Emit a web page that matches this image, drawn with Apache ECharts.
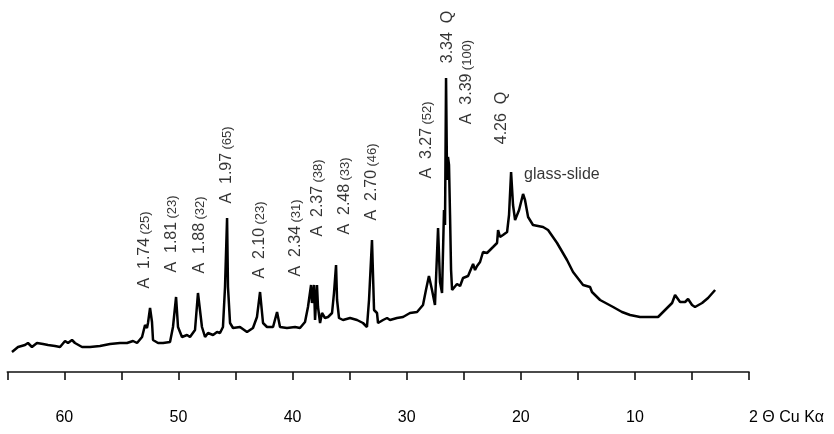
<!DOCTYPE html>
<html>
<head>
<meta charset="utf-8">
<script src="https://cdn.jsdelivr.net/npm/echarts@6/dist/echarts.min.js"></script>
<style>
  html, body { margin: 0; padding: 0; background: #fff; }
  #chart { width: 834px; height: 434px; }
</style>
</head>
<body>
<div id="chart"></div>
<script>
// diffractogram trace (2θ in degrees, height in arbitrary units)
const twoTheta = [
  64.59, 64.06, 63.45, 63.19, 62.84, 62.40, 61.87, 61.43, 60.82, 60.38,
  59.94, 59.68, 59.33, 59.07, 58.45, 57.75, 56.88, 56.00, 55.12, 54.51,
  53.98, 53.63, 53.19, 52.93, 52.76, 52.67, 52.49, 52.32, 52.23, 51.79,
  51.35, 50.74, 50.48, 50.21, 50.04, 49.69, 49.25, 48.99, 48.55, 48.29,
  47.94, 47.67, 47.41, 46.97, 46.62, 46.36, 46.10, 45.92, 45.74, 45.66,
  45.48, 45.22, 44.61, 43.99, 43.47, 43.12, 42.85, 42.59, 42.24, 41.71,
  41.36, 41.10, 40.49, 39.78, 39.35, 38.91, 38.65, 38.38, 38.30, 38.12,
  38.03, 37.86, 37.77, 37.59, 37.42, 37.16, 36.89, 36.54, 36.37, 36.19,
  36.10, 35.93, 35.58, 34.96, 34.35, 33.83, 33.48, 33.30, 33.04, 32.86,
  32.60, 32.51, 32.07, 31.72, 31.46, 30.85, 30.32, 29.71, 29.09, 28.57,
  28.31, 28.05, 27.78, 27.52, 27.25, 27.08, 26.90, 26.73, 26.64, 26.55,
  26.46, 26.38, 26.29, 26.20, 26.11, 26.02, 25.85, 25.59, 25.32, 25.06,
  24.62, 24.18, 24.01, 23.83, 23.57, 23.31, 22.96, 22.43, 22.08, 21.99,
  21.82, 21.56, 21.20, 21.03, 20.85, 20.68, 20.50, 20.15, 19.80, 19.63,
  19.36, 18.93, 18.05, 17.61, 16.82, 15.95, 15.42, 14.54, 13.93, 13.76,
  13.05, 11.91, 11.13, 10.42, 9.55, 7.97, 7.18, 6.74, 6.48, 6.04,
  5.60, 5.34, 4.99, 4.73, 4.11, 3.59, 2.97
];
const counts = [
  20, 25, 27, 29, 25, 29, 28, 27, 26, 25,
  31, 29, 32, 29, 25, 25, 26, 28, 29, 29,
  31, 29, 35, 47, 44, 49, 64, 50, 32, 29,
  29, 30, 45, 75, 45, 35, 37, 35, 42, 79,
  45, 35, 39, 37, 40, 39, 45, 85, 154, 85,
  49, 44, 45, 40, 44, 55, 80, 49, 45, 45,
  60, 45, 44, 45, 44, 50, 65, 87, 69, 87,
  52, 87, 65, 49, 59, 54, 55, 59, 79, 107,
  72, 54, 52, 54, 52, 49, 45, 72, 132, 62,
  59, 49, 52, 54, 52, 54, 55, 59, 60, 67,
  82, 96, 82, 67, 144, 90, 79, 162, 147, 294,
  192, 215, 207, 157, 102, 82, 84, 88, 86, 94,
  96, 108, 102, 106, 110, 120, 119, 125, 129, 142,
  135, 137, 140, 157, 200, 167, 152, 162, 178, 172,
  155, 147, 145, 142, 129, 112, 100, 87, 85, 80,
  72, 65, 60, 57, 55, 55, 64, 69, 77, 70,
  70, 73, 67, 65, 69, 74, 82
];

const tickLabels = [60, 50, 40, 30, 20, 10];

// peak annotations: d-spacing text, relative intensity, anchor (2θ, height)
const peakText = ['A  1.74', 'A  1.81', 'A  1.88', 'A  1.97', 'A  2.10', 'A  2.34', 'A  2.37',
                  'A  2.48', 'A  2.70', 'A  3.27', '3.34  Q', 'A  3.39', '4.26  Q'];
const peakRel = ['25', '23', '32', '65', '23', '31', '38', '33', '46', '52', '', '100', ''];
const peakTheta = [52.93, 50.57, 48.11, 45.74, 42.85, 39.70, 37.77, 35.40, 33.04, 28.22, 26.38, 24.71, 21.64];
const peakLevel = [122, 138, 137, 207, 132, 134, 174, 176, 190, 232, 335, 290, 254];

const slideText = 'glass-slide';
const slideTheta = 19.71;
const slideLevel = 197;

const FONT = '"Liberation Sans", Arial, Helvetica, sans-serif';

const trace = twoTheta.map((t, i) => [t, counts[i]]);
const peakPoints = peakTheta.map((t, i) => ({
  value: [t, peakLevel[i]],
  name: peakText[i],
  rel: peakRel[i]
}));

const chart = echarts.init(document.getElementById('chart'));
chart.setOption({
  animation: false,
  backgroundColor: '#fff',
  grid: { left: 7.3, right: 85, top: 0, bottom: 62 },
  xAxis: {
    type: 'value',
    min: 0,
    max: 65,
    interval: 5,
    inverse: true,
    splitLine: { show: false },
    axisLine: { lineStyle: { color: '#111', width: 1.6 } },
    axisTick: { length: 8, lineStyle: { color: '#111', width: 1.6 } },
    axisLabel: {
      margin: 38,
      fontSize: 16,
      color: '#000',
      fontFamily: FONT,
      formatter: v => tickLabels.includes(v) ? String(v) : ''
    },
    name: '2 Θ Cu Kα',
    nameLocation: 'start',
    nameGap: 0,
    nameTextStyle: {
      fontSize: 16,
      color: '#000',
      fontFamily: FONT,
      align: 'left',
      verticalAlign: 'top',
      padding: [38, 0, 0, 0]
    }
  },
  yAxis: {
    type: 'value',
    min: 0,
    max: 372,
    show: false
  },
  series: [
    {
      type: 'line',
      data: trace,
      showSymbol: false,
      lineStyle: { color: '#000', width: 2.5 },
      z: 3
    },
    {
      type: 'scatter',
      data: peakPoints,
      symbolSize: 0,
      label: {
        show: true,
        position: 'inside',
        rotate: 90,
        align: 'center',
        verticalAlign: 'middle',
        color: '#000',
        textBorderWidth: 0,
        fontFamily: FONT,
        formatter: p => p.data.rel
          ? '{m|' + p.data.name + '} {s|(' + p.data.rel + ')}'
          : '{m|' + p.data.name + '}',
        rich: {
          m: { fontSize: 16, color: '#000', fontFamily: FONT },
          s: { fontSize: 13, color: '#000', fontFamily: FONT }
        }
      },
      z: 4
    },
    {
      type: 'scatter',
      data: [{ value: [slideTheta, slideLevel], name: slideText }],
      symbolSize: 0,
      label: {
        show: true,
        position: 'inside',
        align: 'left',
        verticalAlign: 'middle',
        fontSize: 16,
        color: '#000',
        textBorderWidth: 0,
        fontFamily: FONT,
        formatter: p => p.name
      },
      z: 4
    }
  ]
});
</script>
</body>
</html>
